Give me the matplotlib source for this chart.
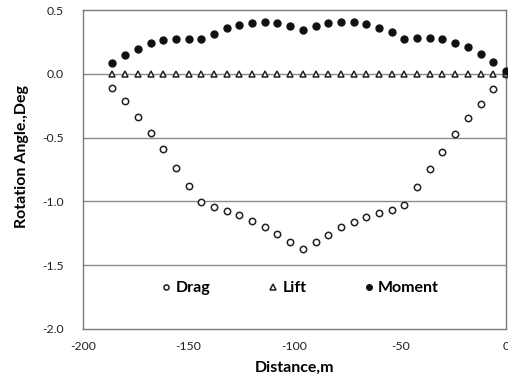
import matplotlib
matplotlib.use("Agg")
import matplotlib.pyplot as plt

distance = [-186 + 6 * i for i in range(32)]
drag = [-0.114, -0.215, -0.337, -0.467, -0.589, -0.735, -0.882, -1.007, -1.046, -1.078,
        -1.109, -1.151, -1.203, -1.256, -1.318, -1.370, -1.318, -1.266, -1.203, -1.161,
        -1.120, -1.091, -1.067, -1.028, -0.890, -0.746, -0.610, -0.474, -0.348, -0.237,
        -0.122, 0.0]
lift = [0.0] * 32
moment = [0.087, 0.147, 0.197, 0.239, 0.262, 0.273, 0.273, 0.270, 0.312, 0.356,
          0.385, 0.396, 0.403, 0.396, 0.377, 0.343, 0.377, 0.396, 0.406, 0.406,
          0.388, 0.356, 0.325, 0.270, 0.280, 0.280, 0.270, 0.241, 0.208, 0.158,
          0.095, 0.024]

plt.rcParams['font.family'] = ['Lato', 'DejaVu Sans']

fig = plt.figure(figsize=(5.08, 3.85), dpi=100)
ax = fig.add_axes([0.163, 0.1455, 0.833, 0.8285])

for y in [0.0, -0.5, -1.0, -1.5]:
    ax.axhline(y, color='#8c8c8c', lw=1.0, zorder=0)

ax.plot(distance, drag, 'o', ms=4.6, mfc='white', mec='#222222', mew=1.1,
        ls='none', label='Drag', clip_on=False, zorder=3)
ax.plot(distance, lift, '^', ms=4.8, mfc='white', mec='#222222', mew=1.1,
        ls='none', label='Lift', clip_on=False, zorder=3)
ax.plot(distance, moment, 'o', ms=5.0, mfc='#111111', mec='#111111',
        ls='none', label='Moment', clip_on=False, zorder=4)

ax.set_xlim(-200, 0)
ax.set_ylim(-2.0, 0.5)
ax.set_xticks([-200, -150, -100, -50, 0])
ax.set_xticklabels(['-200', '-150', '-100', '-50', '0'])
ax.set_yticks([0.5, 0.0, -0.5, -1.0, -1.5, -2.0])
ax.set_yticklabels(['0.5', '0.0', '-0.5', '-1.0', '-1.5', '-2.0'])
ax.tick_params(axis='both', length=0, labelsize=8.8, colors='#222222')
ax.tick_params(axis='x', pad=9)
ax.tick_params(axis='y', pad=14)

for s in ax.spines.values():
    s.set_color('#7a7a7a')
    s.set_linewidth(1.0)

ax.set_xlabel('Distance,m', fontsize=11.5, fontweight='bold', labelpad=6)
ax.set_ylabel('Rotation Angle.,Deg', fontsize=11.5, fontweight='bold')
ax.yaxis.set_label_coords(-0.128, 0.54)

leg = ax.legend(loc='center', bbox_to_anchor=(0.51, 0.128), ncol=3, frameon=False,
                prop={'weight': 'bold', 'size': 11.5},
                handletextpad=0.1, columnspacing=3.4, markerscale=0.8,
                handlelength=1.0)

fig.savefig('out.png', dpi=100)
